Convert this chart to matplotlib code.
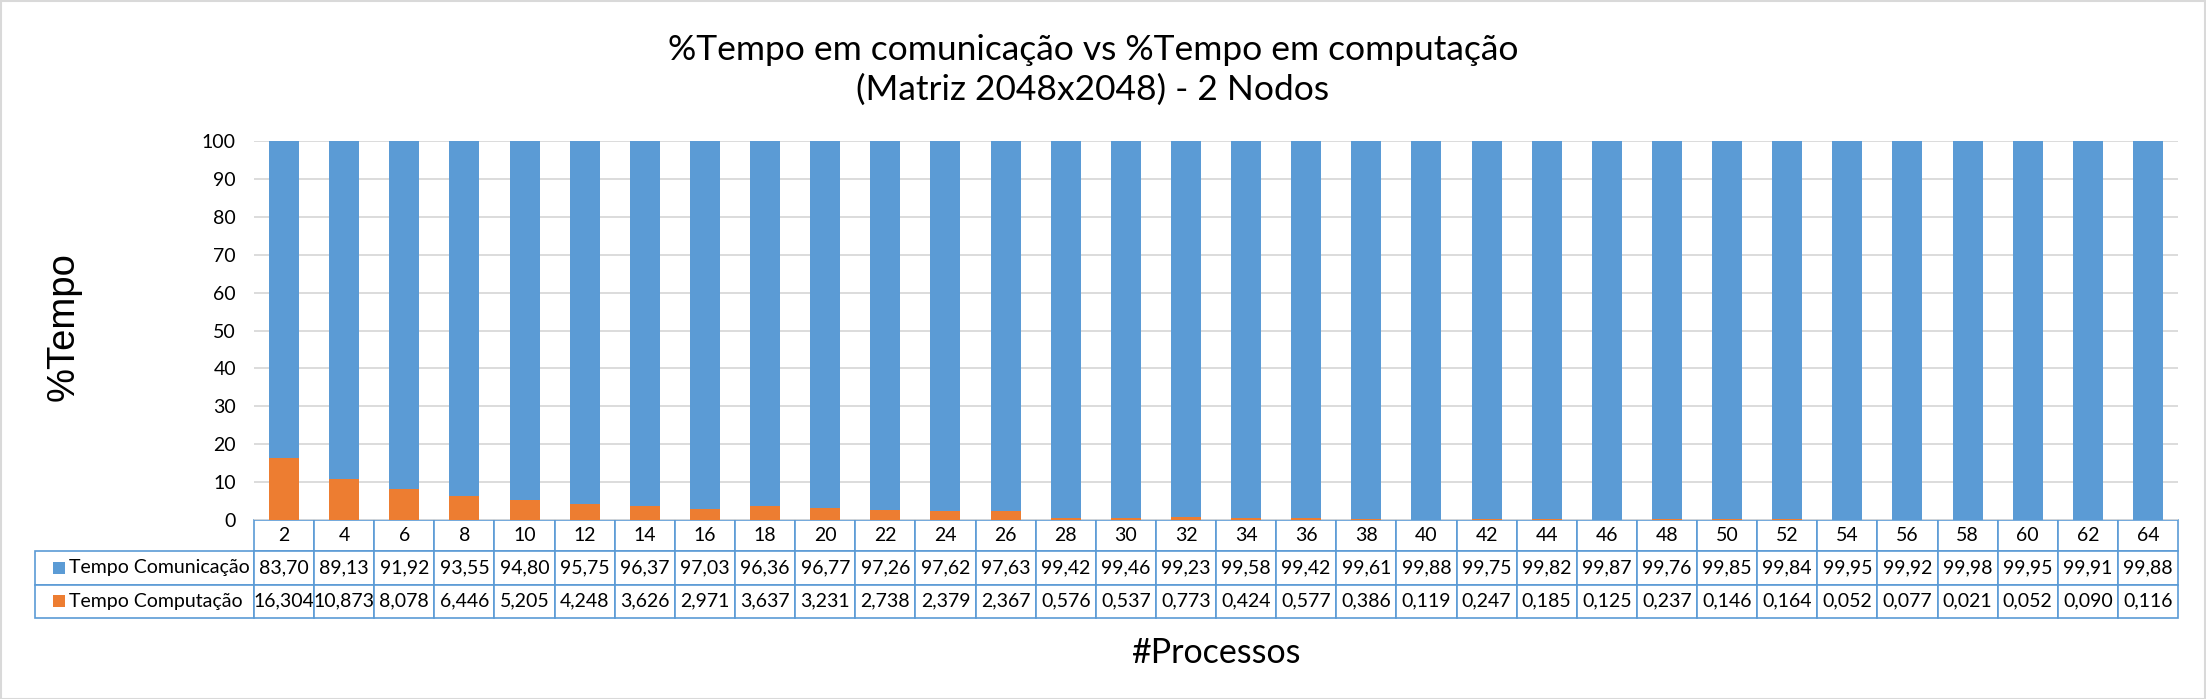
import matplotlib
matplotlib.use("Agg")
import matplotlib.pyplot as plt
from matplotlib.patches import Rectangle

processos = [2, 4, 6, 8, 10, 12, 14, 16, 18, 20, 22, 24, 26, 28, 30, 32,
             34, 36, 38, 40, 42, 44, 46, 48, 50, 52, 54, 56, 58, 60, 62, 64]
tempo_comunicacao = [83.70, 89.13, 91.92, 93.55, 94.80, 95.75, 96.37, 97.03,
                     96.36, 96.77, 97.26, 97.62, 97.63, 99.42, 99.46, 99.23,
                     99.58, 99.42, 99.61, 99.88, 99.75, 99.82, 99.87, 99.76,
                     99.85, 99.84, 99.95, 99.92, 99.98, 99.95, 99.91, 99.88]
tempo_computacao = [16.304, 10.873, 8.078, 6.446, 5.205, 4.248, 3.626, 2.971,
                    3.637, 3.231, 2.738, 2.379, 2.367, 0.576, 0.537, 0.773,
                    0.424, 0.577, 0.386, 0.119, 0.247, 0.185, 0.125, 0.237,
                    0.146, 0.164, 0.052, 0.077, 0.021, 0.052, 0.090, 0.116]
series_labels = ["Tempo Comunicação", "Tempo Computação"]
yticks = list(range(0, 101, 10))

BLUE = "#5B9BD5"
ORANGE = "#ED7D31"
GRID = "#D9D9D9"
FONT = "Lato"

plt.rcParams["font.family"] = [FONT, "DejaVu Sans"]

W, H = 2206, 699
fig = plt.figure(figsize=(W / 100, H / 100), dpi=100)

x0, x1 = 254, 2178
y_top, y_zero = 141, 520
ax = fig.add_axes([x0 / W, 1 - y_zero / H, (x1 - x0) / W, (y_zero - y_top) / H])

x = list(range(len(processos)))
ax.bar(x, tempo_computacao, width=0.5, color=ORANGE, zorder=3)
ax.bar(x, tempo_comunicacao, width=0.5, bottom=tempo_computacao, color=BLUE, zorder=3)

ax.set_xlim(-0.5, len(processos) - 0.5)
ax.set_ylim(0, 100)
ax.set_yticks(yticks)
ax.set_yticklabels([str(v) for v in yticks], fontsize=14)
ax.set_xticks([])
ax.tick_params(axis="y", length=0, pad=13)
ax.grid(axis="y", color=GRID, linewidth=1.3, zorder=0)
for s in ax.spines.values():
    s.set_visible(False)

# data table (cell sizes given directly in axes units)
fmt2 = lambda v: f"{v:.2f}".replace(".", ",")
fmt3 = lambda v: f"{v:.3f}".replace(".", ",")
cell_text = [[fmt2(v) for v in tempo_comunicacao], [fmt3(v) for v in tempo_computacao]]
row_labels = ["      " + s for s in series_labels]

tl = 45
axw = x1 - x0
axh = y_zero - y_top
hdr_h, row_h = 31, 33.5
t_h = hdr_h + 2 * row_h
table = ax.table(cellText=cell_text, rowLabels=row_labels,
                 colLabels=[str(p) for p in processos],
                 cellLoc="center", rowLoc="left",
                 bbox=[0, -t_h / axh, 1, t_h / axh])
table.auto_set_font_size(False)
table.set_fontsize(14)
ncol = len(processos)
for (r, c), cell in table.get_celld().items():
    cell.set_edgecolor(BLUE)
    cell.set_linewidth(1.2)
    cell.PAD = 0.02
    if c == -1:
        cell.set_width((x0 - tl) / axw)
    else:
        cell.set_width(1.0 / ncol)
    cell.set_height((hdr_h if r == 0 else row_h) / axh)

# legend keys in the row-label cells
for i, col in enumerate([BLUE, ORANGE]):
    ycen = y_zero + hdr_h + row_h * i + row_h / 2
    fig.patches.append(Rectangle(((tl + 8) / W, 1 - (ycen + 6) / H), 12 / W, 12 / H,
                                 transform=fig.transFigure, facecolor=col,
                                 edgecolor="none", zorder=10))

fig.text(1093 / W, 1 - 70 / H,
         "%Tempo em comunicação vs %Tempo em computação\n(Matriz 2048x2048) - 2 Nodos",
         ha="center", va="center", fontsize=25.5, linespacing=1.3)
fig.text(64 / W, 1 - 327 / H, "%Tempo", rotation=90, ha="center", va="center",
         fontsize=27.5, family=["Liberation Sans", "DejaVu Sans"])
fig.text((x0 + x1) / 2 / W, 1 - 653 / H, "#Processos", ha="center", va="center", fontsize=24.5)

fig.patches.append(Rectangle((0.5 / W, 0.5 / H), 1 - 1.5 / W, 1 - 1.5 / H,
                             transform=fig.transFigure, facecolor="none",
                             edgecolor="#D9D9D9", linewidth=1.5))

fig.savefig("out.png", dpi=100)
